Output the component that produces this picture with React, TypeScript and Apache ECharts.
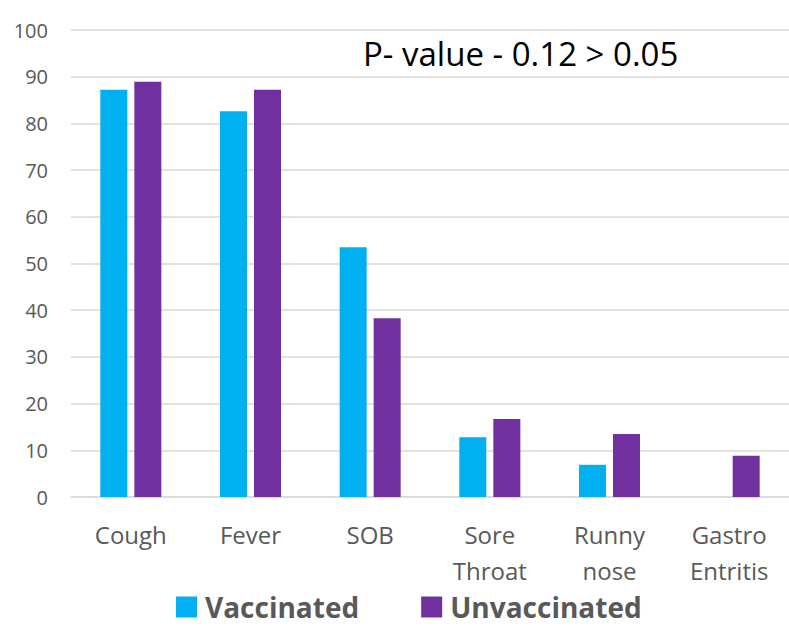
import React, { useEffect, useRef } from "react";
import * as echarts from "echarts";

const categories = ["Cough", "Fever", "SOB", "Sore\nThroat", "Runny\nnose", "Gastro\nEntritis"];
const vaccinated = [87.2, 82.6, 53.5, 12.8, 6.9, 0];
const unvaccinated = [88.9, 87.2, 38.3, 16.7, 13.5, 8.85];
const yTicks = { min: 0, max: 100, interval: 10 };
const annotation = "P- value - 0.12 > 0.05";

export default function App() {
  const ref = useRef<HTMLDivElement>(null);
  useEffect(() => {
    const chart = echarts.init(ref.current!, null, { renderer: "svg" });
    const font = "'Open Sans', sans-serif";
    chart.setOption({
      animation: false,
      backgroundColor: "#ffffff",
      grid: { left: 71, right: 0, top: 30, bottom: 130, containLabel: false },
      legend: {
        data: ["Vaccinated", "Unvaccinated"],
        top: 587,
        left: 171,
        itemWidth: 21,
        itemHeight: 21,
        itemGap: 62,
        icon: "rect",
        textStyle: { fontFamily: font, fontSize: 28, fontWeight: "bold", color: "#595959", lineHeight: 30, padding: [0, 0, 0, 3] },
      },
      xAxis: {
        type: "category",
        data: categories,
        axisLine: { lineStyle: { color: "#d9d9d9", width: 1.5 } },
        axisTick: { show: false },
        axisLabel: { fontFamily: font, fontSize: 24, color: "#595959", margin: 19, lineHeight: 36 },
      },
      yAxis: {
        type: "value",
        min: yTicks.min,
        max: yTicks.max,
        interval: yTicks.interval,
        axisLine: { show: false },
        axisTick: { show: false },
        splitLine: { lineStyle: { color: "#d9d9d9", width: 1.5 } },
        axisLabel: { fontFamily: font, fontSize: 20, color: "#595959", margin: 23 },
      },
      graphic: [
        {
          type: "text",
          left: 363,
          top: 37,
          style: { text: annotation, fontFamily: font, fontSize: 33, fill: "#000000" },
        },
      ],
      series: [
        {
          name: "Vaccinated",
          type: "bar",
          data: vaccinated,
          barWidth: 27,
          barGap: "26%",
          itemStyle: { color: "#00B0F0" },
        },
        {
          name: "Unvaccinated",
          type: "bar",
          data: unvaccinated,
          barWidth: 27,
          itemStyle: { color: "#7030A0" },
        },
      ],
    });
    return () => chart.dispose();
  }, []);
  return <div ref={ref} style={{ width: 789, height: 627, position: "absolute", left: 0, top: 0 }} />;
}
